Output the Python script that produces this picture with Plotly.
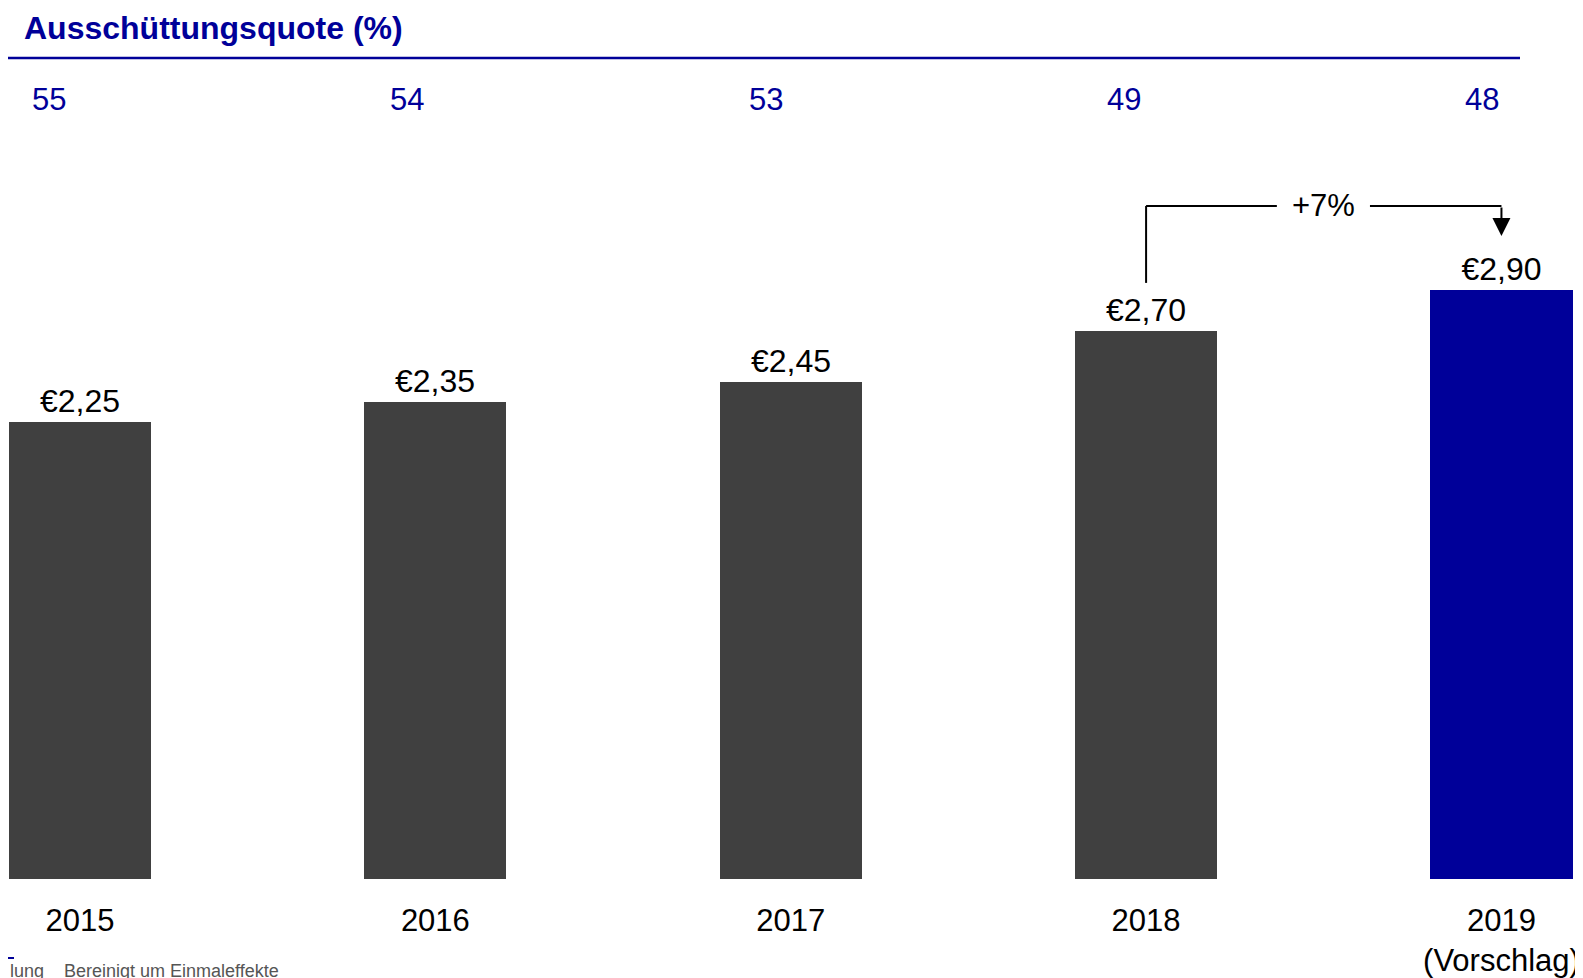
import plotly.graph_objects as go

# Data
years = ["2015", "2016", "2017", "2018", "2019"]
year_labels = ["2015", "2016", "2017", "2018", "2019<br>(Vorschlag)"]
dividends = [2.25, 2.35, 2.45, 2.70, 2.90]
payout_ratio = [55, 54, 53, 49, 48]
growth_label = "+7%"

DARK = "#404040"
BLUE = "#000099"
FONT = "Liberation Sans, Arial, sans-serif"

W, H = 1583, 978
PLOT_H = 871  # plot area height in px (top margin 0)

x_idx = list(range(len(years)))
bar_colors = [DARK] * (len(years) - 1) + [BLUE]
value_text = ["€" + f"{v:.2f}".replace(".", ",") for v in dividends]

fig = go.Figure()
fig.add_trace(go.Bar(
    x=x_idx,
    y=dividends,
    width=0.4,
    marker=dict(color=bar_colors, line=dict(width=0)),
    text=value_text,
    textposition="outside",
    textfont=dict(size=32, color="black", family=FONT),
    cliponaxis=False,
    showlegend=False,
))

# Payout ratio row
for i, p in enumerate(payout_ratio):
    fig.add_annotation(
        x=-0.140 + 1.0079 * i, y=1, xref="x", yref="paper",
        text=str(p), showarrow=False,
        font=dict(size=31, color=BLUE, family=FONT),
        xanchor="left", yanchor="middle", yshift=-91,
    )

# Title and rule
fig.add_annotation(
    x=14 / W, y=1, xref="paper", yref="paper",
    text="<b>Ausschüttungsquote (%)</b>", showarrow=False,
    font=dict(size=32, color=BLUE, family=FONT),
    xanchor="left", yanchor="middle", yshift=-20,
)
fig.add_shape(
    type="line", xref="paper", yref="paper",
    x0=0, x1=1512 / W, y0=(PLOT_H - 50) / PLOT_H, y1=(PLOT_H - 50) / PLOT_H,
    line=dict(color=BLUE, width=2.5),
)

# Growth connector between 2018 and 2019
i0, i1 = len(years) - 2, len(years) - 1
y_start = dividends[i0] + 0.236
y_top = dividends[i0] + 0.615
y_tip = dividends[i1] + 0.267
mid = (i0 + i1) / 2
line_style = dict(color="black", width=2)
fig.add_shape(type="line", x0=i0, x1=i0, y0=y_start, y1=y_top, line=line_style)
fig.add_shape(type="line", x0=i0, x1=mid - 0.132, y0=y_top, y1=y_top, line=line_style)
fig.add_shape(type="line", x0=mid + 0.13, x1=i1, y0=y_top, y1=y_top, line=line_style)
fig.add_annotation(
    x=i1, y=y_tip, ax=i1, ay=y_top, xref="x", yref="y", axref="x", ayref="y",
    text="", showarrow=True, arrowhead=2, arrowsize=1.8, arrowwidth=2,
    arrowcolor="black",
)
fig.add_annotation(
    x=mid, y=y_top, text=growth_label, showarrow=False,
    font=dict(size=31, color="black", family=FONT),
    xanchor="center", yanchor="middle",
)

# Footnote
fig.add_shape(
    type="line", xref="paper", yref="paper",
    x0=0, x1=6 / W, y0=(PLOT_H - 950) / PLOT_H, y1=(PLOT_H - 950) / PLOT_H,
    line=dict(color=BLUE, width=2),
)
fig.add_annotation(
    x=0, y=(PLOT_H - 951) / PLOT_H, xref="paper", yref="paper",
    text="lung    Bereinigt um Einmaleffekte", showarrow=False,
    font=dict(size=18, color="#555555", family=FONT),
    xanchor="left", yanchor="top",
)

fig.update_layout(
    width=W, height=H,
    margin=dict(l=0, r=0, t=0, b=H - PLOT_H),
    plot_bgcolor="white", paper_bgcolor="white",
    bargap=0,
    xaxis=dict(
        range=[-0.2026, 4.252],
        tickmode="array", tickvals=x_idx, ticktext=year_labels,
        tickfont=dict(size=31, color="black", family=FONT),
        ticklabelstandoff=20,
        showgrid=False, zeroline=False, showline=False, ticks="",
    ),
    yaxis=dict(
        range=[0, 4.29],
        showgrid=False, zeroline=False, showline=False,
        showticklabels=False, ticks="",
    ),
)

fig.write_html("out.html")
